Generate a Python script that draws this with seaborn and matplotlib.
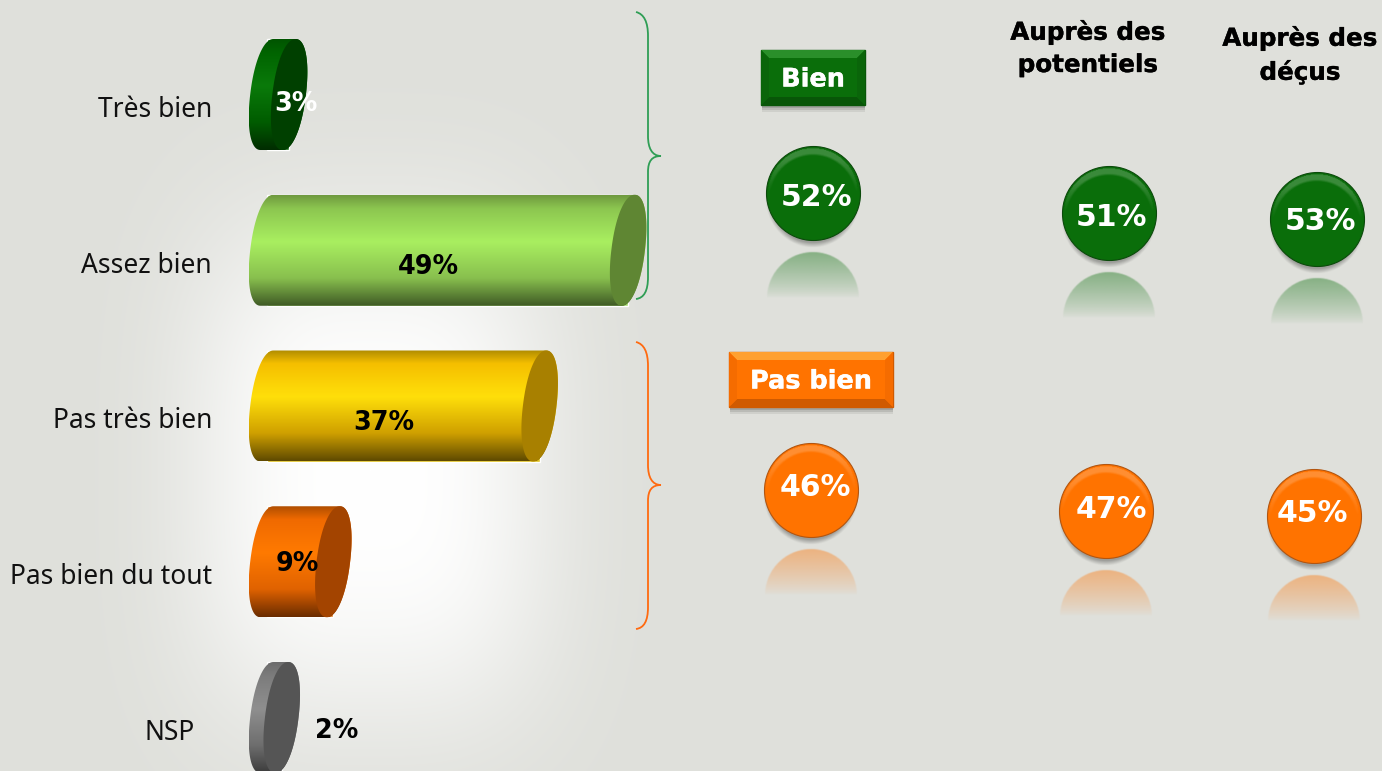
import numpy as np
import pandas as pd
import matplotlib
matplotlib.use("Agg")
import matplotlib.pyplot as plt
import matplotlib.patheffects as pe
import matplotlib.transforms as mtransforms
from matplotlib.colors import to_rgb
from matplotlib.patches import Polygon, PathPatch, Rectangle
from matplotlib.path import Path
import seaborn as sns

# Data
categories = ["Très bien", "Assez bien", "Pas très bien", "Pas bien du tout", "NSP"]
values = [3, 49, 37, 9, 2]
groups = ["Bien", "Pas bien"]
headers = [["Auprès des", "potentiels"], ["Auprès des", "déçus"]]
bien_scores = [52, 51, 53]
pas_bien_scores = [46, 47, 45]

# Colours of the cylinders: top, upper, light band, lower, bottom, end cap
bar_colors = ["#0a7a0a", "#a9ef60", "#ffd800", "#ff7a00", "#8f8f8f"]
bar_stops = [
    ["#005400", "#006400", "#0a7a0a", "#005c00", "#002c00", "#004000"],
    ["#6f9a3f", "#8cc650", "#a9ef60", "#88bf4e", "#3f5a25", "#5f8633"],
    ["#b08c00", "#f5bf00", "#ffdf0a", "#cfa000", "#5f4a00", "#a88000"],
    ["#b04e00", "#f06a00", "#ff7a00", "#e06200", "#6a2c00", "#a34400"],
    ["#6c6c6c", "#7c7c7c", "#8f8f8f", "#6e6e6e", "#3c3c3c", "#555555"],
]
stop_pos = [0.0, 0.12, 0.42, 0.75, 1.0]

W, H = 1382, 771
PX_PER_PCT = 7.37
ZERO_PX = 267
LEFT_PX, RIGHT_PX = 249, 660
ROW0_PX, ROW_STEP = 94.5, 155.75
BAR_H = 111
CAP_A, CAP_S = 16.8, 6.5

sns.set_theme(style="white")
plt.rcParams["font.family"] = ["Noto Sans", "DejaVu Sans"]

fig = plt.figure(figsize=(W / 100, H / 100), dpi=100, facecolor="#dfe0db")

# Background with the soft white glow behind the bars
bg = fig.add_axes([0, 0, 1, 1], zorder=1)
xx, yy = np.meshgrid(np.arange(W), np.arange(H))
glow = np.exp(-np.abs((xx - 370) / 180) ** 3) * np.exp(-np.abs((yy - 470) / 250) ** 3)
base = np.array(to_rgb("#dfe0db"))
bg.imshow(base + (1 - base) * glow[..., None], aspect="auto", interpolation="bilinear")
bg.axis("off")

# Bars on real axes, the x scale is in percent
ax = fig.add_axes([LEFT_PX / W, 0, (RIGHT_PX - LEFT_PX) / W, 1], zorder=2)
ax.patch.set_alpha(0)
sns.barplot(x=values, y=categories, hue=categories, palette=bar_colors, legend=False,
            width=BAR_H / ROW_STEP, orient="h", ax=ax)
bars = list(ax.patches)
xlim = ((LEFT_PX - ZERO_PX) / PX_PER_PCT, (RIGHT_PX - ZERO_PX) / PX_PER_PCT)
ylim = ((H - ROW0_PX) / ROW_STEP, -ROW0_PX / ROW_STEP)

a_u = CAP_A / PX_PER_PCT
s_u = CAP_S / PX_PER_PCT


def cap_points(cx, cy, b, t):
    # slanted, slightly full ellipse for the ends of the cylinder
    c = np.sign(np.cos(t)) * np.abs(np.cos(t)) ** 0.93
    s = np.sign(np.sin(t)) * np.abs(np.sin(t)) ** 0.93
    return np.column_stack([cx + a_u * c - s_u * s, cy + b * s])


for bar, stops in zip(bars, bar_stops):
    cy = bar.get_y() + bar.get_height() / 2
    b = bar.get_height() / 2
    v = bar.get_width()
    left = cap_points(0, cy, b, np.linspace(1.5 * np.pi, 0.5 * np.pi, 80))
    right = cap_points(v, cy, b, np.linspace(0.5 * np.pi, -0.5 * np.pi, 80))
    body = Polygon(np.vstack([left, right]), closed=True, fc="none", ec="none", zorder=3)
    ax.add_patch(body)
    rgb = np.array([to_rgb(c) for c in stops[:5]])
    rows = np.linspace(0, 1, 200)
    grad = np.stack([np.interp(rows, stop_pos, rgb[:, i]) for i in range(3)], axis=1)[:, None, :]
    im = ax.imshow(grad, extent=(-4, v + 4, cy + b, cy - b), aspect="auto", zorder=3,
                   interpolation="bilinear")
    im.set_clip_path(body)
    cap = cap_points(v, cy, b, np.linspace(0, 2 * np.pi, 160))
    ax.add_patch(Polygon(cap, closed=True, fc=stops[5], ec="none", zorder=4))

ax.set_xlim(*xlim)
ax.set_ylim(*ylim)
ax.set_xticks([])
ax.set_xlabel("")
ax.set_ylabel("")
sns.despine(ax=ax, left=True, bottom=True)
ax.tick_params(axis="y", length=0, pad=(LEFT_PX - 212) * 0.72, labelsize=19, labelcolor="#111111")
for i, label in enumerate(ax.get_yticklabels()):
    dx = -17 if i == 4 else 0
    label.set_transform(label.get_transform() + mtransforms.Affine2D().translate(dx, -12))

# Overlay in pixel coordinates for the labels, braces, buttons and bubbles
ov = fig.add_axes([0, 0, 1, 1], zorder=3)
ov.patch.set_alpha(0)
ov.set_xlim(0, W)
ov.set_ylim(H, 0)
ov.axis("off")


def bold_text(x, y, s, color, size, stroke=0.0):
    t = ov.text(x, y, s, color=color, fontsize=size, fontweight="bold", family="DejaVu Sans",
                ha="center", va="center", zorder=6)
    if stroke:
        # the header face is a little heavier than DejaVu Bold
        t.set_path_effects([pe.withStroke(linewidth=stroke, foreground=color)])


value_px = [(296, 104), (428, 267), (384, 423), (297, 564), (337, 731)]
value_colors = ["white", "black", "black", "black", "black"]
for v, (px, py), c in zip(values, value_px, value_colors):
    bold_text(px, py, f"{v}%", c, 18.4)


def brace(top, mid, bottom, color):
    x0, x1, tip = 636, 648, 661
    verts = [(x0, top), (x1 - 4, top + 2), (x1, top + 10), (x1, top + 24),
             (x1, mid - 20), (x1, mid - 8), (x1 + 4, mid), (tip, mid),
             (x1 + 4, mid), (x1, mid + 5), (x1, mid + 16),
             (x1, bottom - 22), (x1, bottom - 8), (x1 - 4, bottom - 1), (x0, bottom)]
    codes = [Path.MOVETO, Path.CURVE4, Path.CURVE4, Path.CURVE4,
             Path.LINETO, Path.CURVE4, Path.CURVE4, Path.CURVE4,
             Path.CURVE4, Path.CURVE4, Path.CURVE4,
             Path.LINETO, Path.CURVE4, Path.CURVE4, Path.CURVE4]
    ov.add_patch(PathPatch(Path(verts, codes), fc="none", ec=color, lw=1.3))


brace(12, 156, 299, "#2f9e55")
brace(342, 485, 629, "#ff6a10")


def button(x0, x1, y0, y1, text, mid, light, dark, side):
    for k, al in zip([8, 6, 4], [0.1, 0.15, 0.2]):
        ov.add_patch(Rectangle((x0 + 1, y1 - 1), x1 - x0 - 1, k, fc="#444444", ec="none", alpha=al))
    ov.add_patch(Rectangle((x0, y0), x1 - x0, y1 - y0, fc=mid, ec=dark, lw=1))
    e = 8
    ov.add_patch(Polygon([(x0, y0), (x1, y0), (x1 - e, y0 + e), (x0 + e, y0 + e)], fc=light, ec="none"))
    ov.add_patch(Polygon([(x0, y1), (x1, y1), (x1 - e, y1 - e), (x0 + e, y1 - e)], fc=dark, ec="none"))
    ov.add_patch(Polygon([(x0, y0), (x0 + e, y0 + e), (x0 + e, y1 - e), (x0, y1)], fc=side, ec="none"))
    ov.add_patch(Polygon([(x1, y0), (x1 - e, y0 + e), (x1 - e, y1 - e), (x1, y1)], fc=side, ec="none"))
    bold_text((x0 + x1) / 2, (y0 + y1) / 2 + 2, text, "white", 18.4, stroke=0.25)


button(761, 865, 50, 105, groups[0], "#0a6e0a", "#2a8f2a", "#085608", "#0a650a")
button(729, 893, 352, 407, groups[1], "#ff7300", "#ffa030", "#d05a00", "#f56c00")

# Column headers
for lines, cx, ys in zip(headers, [1088, 1300], [(32, 65), (38, 72)]):
    for line, y in zip(lines, ys):
        bold_text(cx, y, line, "black", 17.7, stroke=0.25)

# Bubbles
bubbles = pd.DataFrame({
    "score": bien_scores + pas_bien_scores,
    "group": [groups[0]] * 3 + [groups[1]] * 3,
    "x": [813, 1109, 1317, 811, 1106, 1314],
    "y": [193, 213, 219, 490, 511, 516],
})
text_px = [(817, 197), (1112, 217), (1321, 222), (815, 488), (1111, 509), (1312, 514)]
R = 47
group_colors = {groups[0]: "#0a6e0a", groups[1]: "#ff7300"}
group_edges = {groups[0]: "#0b4a0b", groups[1]: "#b25510"}
n = 120
gy, gx = np.mgrid[-1:1:n * 1j, -1:1:n * 1j]
rr = np.hypot(gx, gy)

for _, row in bubbles.iterrows():
    cx, cy = row["x"], row["y"]
    col = np.array(to_rgb(group_colors[row["group"]]))
    # soft shadow under the bubble
    sh = np.zeros((n, n, 4))
    sh[..., 3] = 0.3 * np.clip((1.0 - rr) / 0.1, 0, 1)
    ov.imshow(sh, extent=(cx - R - 1, cx + R + 1, cy + R + 8, cy - R), aspect="auto",
              interpolation="bilinear", zorder=2)
    # reflection
    ref_cy = cy + 2 * R + 11
    ref = np.zeros((n, n, 4))
    ref[..., :3] = col
    ref[..., 3] = 0.42 * np.clip(-gy, 0, 1) ** 0.8 * np.clip((1.0 - rr) / 0.03, 0, 1)
    ov.imshow(ref, extent=(cx - R, cx + R, ref_cy + R, ref_cy - R), aspect="auto",
              interpolation="bilinear", zorder=2)

for g in groups:
    sns.scatterplot(data=bubbles[bubbles["group"] == g], x="x", y="y", s=(2 * R * 0.72) ** 2,
                    color=group_colors[g], edgecolor=group_edges[g], linewidth=0.8,
                    legend=False, zorder=3, ax=ov)

for _, row in bubbles.iterrows():
    cx, cy = row["x"], row["y"]
    shine = np.zeros((n, n, 4))
    shine[..., :3] = 1.0
    crescent = np.clip((np.hypot(gx, gy - 0.1) - 0.9) / 0.05, 0, 1)
    shine[..., 3] = 0.2 * crescent * np.clip(-gy * 1.4, 0, 1) * (rr < 0.96)
    ov.imshow(shine, extent=(cx - R, cx + R, cy + R, cy - R), aspect="auto",
              interpolation="bilinear", zorder=4)

for s, (px, py) in zip(bubbles["score"], text_px):
    bold_text(px, py, f"{s}%", "white", 21.5)

ov.set_xlim(0, W)
ov.set_ylim(H, 0)
ov.set_xlabel("")
ov.set_ylabel("")

fig.savefig("out.png", dpi=100, facecolor=fig.get_facecolor())
